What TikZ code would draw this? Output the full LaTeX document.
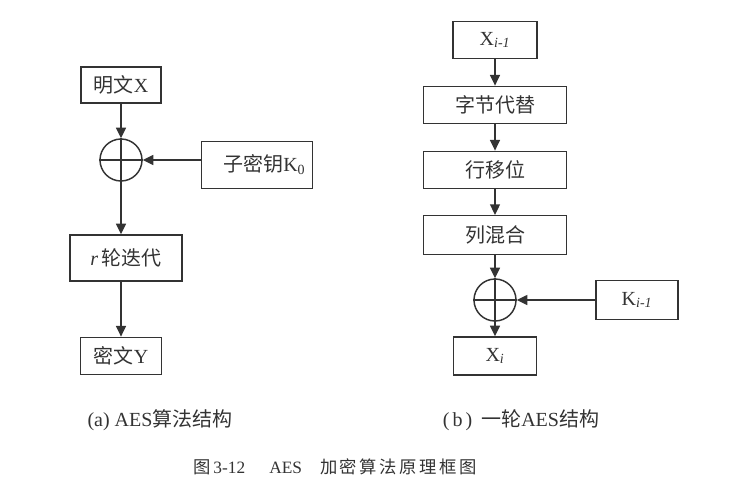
\documentclass[tikz,border=0pt]{standalone}
\usepackage{fontspec}
\setmainfont{Liberation Serif}
\newfontfamily\cjk{Noto Sans CJK SC}
\newfontfamily\cjkcap[LetterSpace=15]{Noto Sans CJK SC}
\usetikzlibrary{arrows.meta}

\begin{document}
\begin{tikzpicture}[x=0.75pt,y=-0.75pt,
  flow/.style={draw=black!80,line width=1.1pt},
  arr/.style={flow,-{Triangle[length=8pt,width=7.5pt]}},
  box/.style={flow,rectangle,inner sep=0pt,text=black!80,font=\fontsize{15}{18}\selectfont},
  xor/.style={flow,circle,inner sep=0pt,minimum size=31.5pt},
  captext/.style={inner sep=0pt,text=black!80,font=\fontsize{15}{18}\selectfont}]
 \useasboundingbox (0,0) rectangle (734,490);

 % (a) AES
 \node[box,minimum width=60pt,minimum height=27pt] (pt) at (121,85) {{\cjk 明文}X};
 \node[xor] (xa) at (121,160) {};
 \node[box,minimum width=83pt,minimum height=35pt] (ka) at (257,165) {\hspace{11pt}{\cjk 子密钥}K\textsubscript{0}};
 \node[box,minimum width=84pt,minimum height=34.5pt] (ra) at (126,258) {\textit{r}\,{\cjk 轮迭代}};
 \node[box,minimum width=61pt,minimum height=28pt] (ct) at (121,356) {{\cjk 密文}Y};
 \draw[arr] (pt) -- (xa.north);
 \draw[flow] (xa.north) -- (xa.south) (xa.west) -- (xa.east);
 \draw[arr] (xa -| ka.west) -- (xa.east);
 \draw[arr] (xa.south) -- (xa.south |- ra.north);
 \draw[arr] (ra.south -| ct) -- (ct.north);
 \node[captext] (capa) at (160,420) {(a) AES{\cjk 算法结构}};

 % (b) one round
 \node[box,minimum width=63pt,minimum height=28pt] (xp) at (495,40) {X\textsubscript{\textit{i-1}}};
 \node[box,minimum width=107pt,minimum height=28pt] (sb) at (495,105) {\cjk 字节代替};
 \node[box,minimum width=107pt,minimum height=28pt] (sr) at (495,170) {\cjk 行移位};
 \node[box,minimum width=107pt,minimum height=29pt] (mc) at (495,235) {\cjk 列混合};
 \node[xor] (xb) at (495,300) {};
 \node[box,minimum width=61.5pt,minimum height=29pt] (kb) at (637,300) {K\textsubscript{\textit{i-1}}};
 \node[box,minimum width=62pt,minimum height=28.5pt] (xo) at (495,356) {X\textsubscript{\textit{i}}};
 \foreach \a/\b in {xp/sb,sb/sr,sr/mc,mc/xb}{
  \draw[arr] (\a) -- (\b);
 }
 \draw[flow] (xb.north) -- (xb.south) (xb.west) -- (xb.east);
 \draw[arr] (kb) -- (xb);
 \draw[arr] (xb.south) -- (xo.north);
 \node[captext] (capb) at (521,420) {(\hspace{0.15em}b\hspace{0.15em})\hspace{0.45em}{\cjk 一轮}AES{\cjk 结构}};

 \node[captext,anchor=west,font=\fontsize{13}{16}\selectfont] (fig) at (193,467)
  {{\cjkcap 图}\,3-12\hspace{18pt}AES\hspace{13.5pt}{\cjkcap 加密算法原理框图}};
\end{tikzpicture}
\end{document}
